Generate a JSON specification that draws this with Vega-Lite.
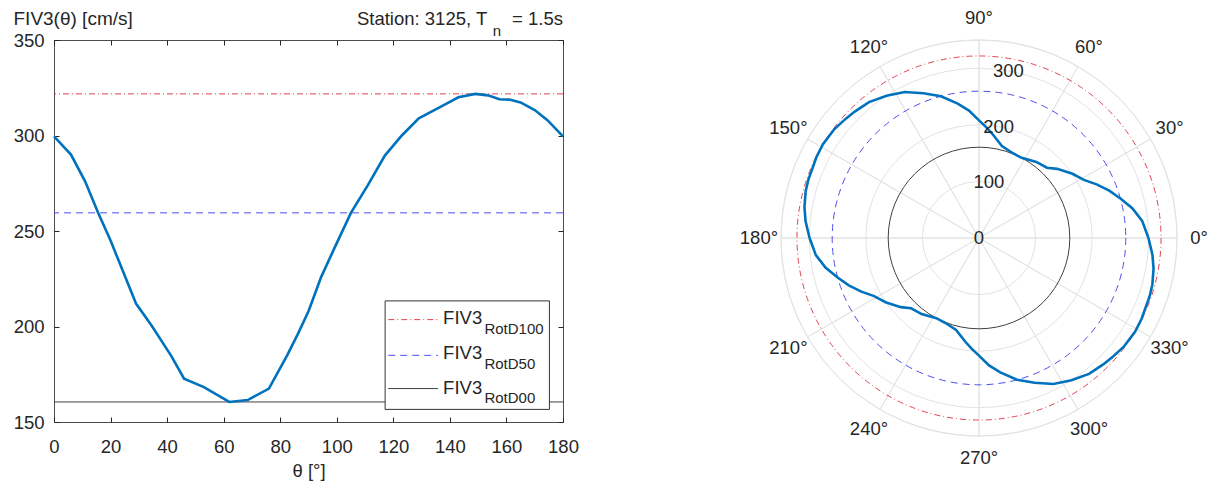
{
  "$schema": "https://vega.github.io/schema/vega-lite/v6.json",
  "background": "white",
  "padding": {"left": 12, "top": 8, "right": 5, "bottom": 5},
  "bounds": "flush",
  "spacing": 218,
  "config": {
    "font": "Liberation Sans",
    "view": {"stroke": null},
    "axis": {"labelFont": "Liberation Sans", "titleFont": "Liberation Sans", "labelColor": "#262626", "titleColor": "#262626", "tickColor": "#262626", "domainColor": "#262626", "grid": false, "labelFlush": false, "labelOverlap": false},
    "text": {"font": "Liberation Sans", "color": "#262626"}
  },
  "datasets": {
    "fiv": [
      {"theta": 0, "v": 299.5}, {"theta": 6, "v": 290}, {"theta": 11, "v": 276}, {"theta": 15.6, "v": 259.5},
      {"theta": 20, "v": 245}, {"theta": 24.5, "v": 228.5}, {"theta": 29, "v": 212}, {"theta": 34.5, "v": 200.5},
      {"theta": 41.5, "v": 184.5}, {"theta": 46, "v": 172.7}, {"theta": 53, "v": 168.3}, {"theta": 62, "v": 160.5},
      {"theta": 68.5, "v": 161.5}, {"theta": 76, "v": 167.5}, {"theta": 82.5, "v": 185}, {"theta": 86.3, "v": 196.3},
      {"theta": 90, "v": 208}, {"theta": 94.5, "v": 226}, {"theta": 99, "v": 240.5}, {"theta": 105, "v": 259.5},
      {"theta": 111, "v": 274}, {"theta": 117, "v": 289.5}, {"theta": 123, "v": 300}, {"theta": 129, "v": 309},
      {"theta": 134.5, "v": 313.3}, {"theta": 138, "v": 316}, {"theta": 143, "v": 320}, {"theta": 149, "v": 321.8},
      {"theta": 153.5, "v": 321}, {"theta": 157.5, "v": 319}, {"theta": 161, "v": 318.8}, {"theta": 165, "v": 317.3},
      {"theta": 170, "v": 313.3}, {"theta": 174.5, "v": 308}, {"theta": 180, "v": 299.5}
    ],
    "rot": [{"name": "RotD100", "v": 321.8}, {"name": "RotD50", "v": 259.5}, {"name": "RotD00", "v": 160.5}],
    "one": [{}],
    "rings": [{"r": 100}, {"r": 200}, {"r": 300}, {"r": 350}],
    "spokes": [{"w": 30}, {"w": 30}, {"w": 30}, {"w": 30}, {"w": 30}, {"w": 30}, {"w": 30}, {"w": 30}, {"w": 30}, {"w": 30}, {"w": 30}, {"w": 30}],
    "angles": [
      {"a": 0, "lab": "0°"}, {"a": 30, "lab": "30°"}, {"a": 60, "lab": "60°"}, {"a": 90, "lab": "90°"},
      {"a": 120, "lab": "120°"}, {"a": 150, "lab": "150°"}, {"a": 180, "lab": "180°"}, {"a": 210, "lab": "210°"},
      {"a": 240, "lab": "240°"}, {"a": 270, "lab": "270°"}, {"a": 300, "lab": "300°"}, {"a": 330, "lab": "330°"}
    ],
    "rlabels": [{"r": 0}, {"r": 100}, {"r": 200}, {"r": 300}]
  },
  "hconcat": [
    {
      "width": 509,
      "height": 382,
      "view": {"stroke": "#4d4d4d", "strokeWidth": 1},
      "resolve": {"axis": {"x": "independent", "y": "independent"}},
      "layer": [
        {
          "data": {"name": "rot"},
          "mark": {"type": "rule", "strokeWidth": 1},
          "encoding": {
            "y": {"field": "v", "type": "quantitative", "scale": {"domain": [150, 350], "nice": false, "zero": false},
              "axis": {"orient": "right", "labels": false, "domain": false, "title": null, "tickSize": -5, "values": [150, 200, 250, 300, 350]}},
            "color": {"field": "name", "type": "nominal", "scale": {"domain": ["RotD100", "RotD50", "RotD00"], "range": ["#E0434F", "#4F4FEF", "#404040"]}, "legend": null},
            "strokeDash": {"field": "name", "type": "nominal", "scale": {"domain": ["RotD100", "RotD50", "RotD00"], "range": [[6, 3, 1, 3], [7, 5], [1, 0]]}, "legend": null}
          }
        },
        {
          "data": {"name": "fiv"},
          "mark": {"type": "line", "color": "#0072BD", "strokeWidth": 2.6},
          "encoding": {
            "x": {"field": "theta", "type": "quantitative", "scale": {"domain": [0, 180], "nice": false, "zero": false},
              "axis": {"orient": "bottom", "values": [0, 20, 40, 60, 80, 100, 120, 140, 160, 180], "tickSize": -5, "labelPadding": 20, "labelFontSize": 18.5, "domain": false,
                "title": "θ [°]", "titleFontSize": 18.5, "titleFontWeight": "normal", "titleY": 54, "titleBaseline": "alphabetic"}},
            "y": {"field": "v", "type": "quantitative",
              "axis": {"orient": "left", "values": [150, 200, 250, 300, 350], "tickSize": -5, "labelPadding": 15, "labelFontSize": 18.5, "domain": false,
                "title": "FIV3(θ) [cm/s]", "titleAngle": 0, "titleX": -41, "titleY": -16, "titleAlign": "left", "titleBaseline": "alphabetic", "titleFontSize": 19, "titleFontWeight": "normal"}}
          }
        },
        {
          "data": {"name": "one"},
          "mark": {"type": "rect", "fill": "white", "stroke": "#333333", "strokeWidth": 1},
          "encoding": {
            "x": {"datum": 117.1, "type": "quantitative", "axis": {"orient": "top", "labels": false, "domain": false, "title": null, "tickSize": -5, "values": [0, 20, 40, 60, 80, 100, 120, 140, 160, 180]}},
            "x2": {"datum": 175.2},
            "y": {"datum": 213.4, "type": "quantitative", "axis": null},
            "y2": {"datum": 156.6}
          }
        },
        {
          "data": {"name": "one"},
          "mark": {"type": "rule", "color": "#E0434F", "strokeWidth": 1, "strokeDash": [6, 3, 1, 3]},
          "encoding": {"x": {"datum": 118.2, "type": "quantitative", "axis": null}, "x2": {"datum": 135.8}, "y": {"datum": 203.6, "type": "quantitative", "axis": null}}
        },
        {
          "data": {"name": "one"},
          "mark": {"type": "rule", "color": "#4F4FEF", "strokeWidth": 1, "strokeDash": [7, 5]},
          "encoding": {"x": {"datum": 118.2, "type": "quantitative", "axis": null}, "x2": {"datum": 135.8}, "y": {"datum": 184.9, "type": "quantitative", "axis": null}}
        },
        {
          "data": {"name": "one"},
          "mark": {"type": "rule", "color": "#404040", "strokeWidth": 1},
          "encoding": {"x": {"datum": 118.2, "type": "quantitative", "axis": null}, "x2": {"datum": 135.8}, "y": {"datum": 167.5, "type": "quantitative", "axis": null}}
        },
        {
          "data": {"name": "one"},
          "mark": {"type": "text", "text": "FIV3", "fontSize": 18.5, "align": "left", "baseline": "alphabetic"},
          "encoding": {"x": {"datum": 137.6, "type": "quantitative", "axis": null}, "y": {"datum": 201.5, "type": "quantitative", "axis": null}}
        },
        {
          "data": {"name": "one"},
          "mark": {"type": "text", "text": "RotD100", "fontSize": 15, "align": "left", "baseline": "alphabetic"},
          "encoding": {"x": {"datum": 152.2, "type": "quantitative", "axis": null}, "y": {"datum": 196.3, "type": "quantitative", "axis": null}}
        },
        {
          "data": {"name": "one"},
          "mark": {"type": "text", "text": "FIV3", "fontSize": 18.5, "align": "left", "baseline": "alphabetic"},
          "encoding": {"x": {"datum": 137.6, "type": "quantitative", "axis": null}, "y": {"datum": 183.2, "type": "quantitative", "axis": null}}
        },
        {
          "data": {"name": "one"},
          "mark": {"type": "text", "text": "RotD50", "fontSize": 15, "align": "left", "baseline": "alphabetic"},
          "encoding": {"x": {"datum": 152.2, "type": "quantitative", "axis": null}, "y": {"datum": 177.9, "type": "quantitative", "axis": null}}
        },
        {
          "data": {"name": "one"},
          "mark": {"type": "text", "text": "FIV3", "fontSize": 18.5, "align": "left", "baseline": "alphabetic"},
          "encoding": {"x": {"datum": 137.6, "type": "quantitative", "axis": null}, "y": {"datum": 164.9, "type": "quantitative", "axis": null}}
        },
        {
          "data": {"name": "one"},
          "mark": {"type": "text", "text": "RotD00", "fontSize": 15, "align": "left", "baseline": "alphabetic"},
          "encoding": {"x": {"datum": 152.2, "type": "quantitative", "axis": null}, "y": {"datum": 160, "type": "quantitative", "axis": null}}
        },
        {
          "data": {"name": "one"},
          "mark": {"type": "text", "text": "Station: 3125, T", "fontSize": 18.5, "align": "right", "baseline": "alphabetic"},
          "encoding": {"x": {"datum": 153.2, "type": "quantitative", "axis": null}, "y": {"datum": 358, "type": "quantitative", "axis": null}}
        },
        {
          "data": {"name": "one"},
          "mark": {"type": "text", "text": "n", "fontSize": 15, "align": "left", "baseline": "alphabetic"},
          "encoding": {"x": {"datum": 155.2, "type": "quantitative", "axis": null}, "y": {"datum": 352.3, "type": "quantitative", "axis": null}}
        },
        {
          "data": {"name": "one"},
          "mark": {"type": "text", "text": "= 1.5s", "fontSize": 18.5, "align": "right", "baseline": "alphabetic"},
          "encoding": {"x": {"datum": 180, "type": "quantitative", "axis": null}, "y": {"datum": 358, "type": "quantitative", "axis": null}}
        }
      ]
    },
    {
      "width": 396,
      "height": 396,
      "view": {"stroke": null},
      "layer": [
        {
          "data": {"name": "spokes"},
          "mark": {"type": "arc", "filled": false, "stroke": "#E3E3E3", "strokeWidth": 1},
          "encoding": {
            "theta": {"field": "w", "type": "quantitative", "stack": true, "scale": {"domain": [0, 360], "range": [1.5707963, -4.712389]}},
            "radius": {"datum": 350, "type": "quantitative", "scale": {"type": "linear", "domain": [0, 350], "range": [0, 198], "zero": true, "nice": false}}
          }
        },
        {
          "data": {"name": "rings"},
          "mark": {"type": "point", "shape": "circle", "filled": false, "color": "#E3E3E3", "strokeWidth": 1, "opacity": 1},
          "encoding": {
            "x": {"datum": 0, "type": "quantitative", "scale": {"domain": [-350, 350], "nice": false, "zero": false}, "axis": null},
            "y": {"datum": 0, "type": "quantitative", "scale": {"domain": [-350, 350], "nice": false, "zero": false}, "axis": null},
            "size": {"field": "r", "type": "quantitative", "scale": {"type": "pow", "exponent": 2, "domain": [0, 350], "range": [0, 156816], "zero": true, "nice": false}, "legend": null}
          }
        },
        {
          "data": {"name": "rot"},
          "transform": [{"filter": "datum.name === 'RotD100'"}],
          "mark": {"type": "point", "shape": "circle", "filled": false, "color": "#E0434F", "strokeWidth": 1, "opacity": 1, "strokeDash": [6, 3, 1, 3]},
          "encoding": {
            "x": {"datum": 0, "type": "quantitative", "axis": null},
            "y": {"datum": 0, "type": "quantitative", "axis": null},
            "size": {"field": "v", "type": "quantitative", "legend": null}
          }
        },
        {
          "data": {"name": "rot"},
          "transform": [{"filter": "datum.name === 'RotD50'"}],
          "mark": {"type": "point", "shape": "circle", "filled": false, "color": "#4F4FEF", "strokeWidth": 1, "opacity": 1, "strokeDash": [7, 5]},
          "encoding": {
            "x": {"datum": 0, "type": "quantitative", "axis": null},
            "y": {"datum": 0, "type": "quantitative", "axis": null},
            "size": {"field": "v", "type": "quantitative", "legend": null}
          }
        },
        {
          "data": {"name": "rot"},
          "transform": [{"filter": "datum.name === 'RotD00'"}],
          "mark": {"type": "point", "shape": "circle", "filled": false, "color": "#404040", "strokeWidth": 1, "opacity": 1},
          "encoding": {
            "x": {"datum": 0, "type": "quantitative", "axis": null},
            "y": {"datum": 0, "type": "quantitative", "axis": null},
            "size": {"field": "v", "type": "quantitative", "legend": null}
          }
        },
        {
          "data": {"name": "fiv"},
          "transform": [
            {"calculate": "datum.v * cos(datum.theta * PI / 180)", "as": "px"},
            {"calculate": "datum.v * sin(datum.theta * PI / 180)", "as": "py"}
          ],
          "mark": {"type": "line", "color": "#0072BD", "strokeWidth": 2.6},
          "encoding": {
            "x": {"field": "px", "type": "quantitative", "axis": null},
            "y": {"field": "py", "type": "quantitative", "axis": null},
            "order": {"field": "theta", "type": "quantitative"}
          }
        },
        {
          "data": {"name": "fiv"},
          "transform": [
            {"calculate": "-datum.v * cos(datum.theta * PI / 180)", "as": "px"},
            {"calculate": "-datum.v * sin(datum.theta * PI / 180)", "as": "py"}
          ],
          "mark": {"type": "line", "color": "#0072BD", "strokeWidth": 2.6},
          "encoding": {
            "x": {"field": "px", "type": "quantitative", "axis": null},
            "y": {"field": "py", "type": "quantitative", "axis": null},
            "order": {"field": "theta", "type": "quantitative"}
          }
        },
        {
          "data": {"name": "angles"},
          "mark": {"type": "text", "fontSize": 18.5, "align": "center", "baseline": "middle"},
          "encoding": {
            "theta": {"field": "a", "type": "quantitative"},
            "radius": {"datum": 389, "type": "quantitative"},
            "text": {"field": "lab"}
          }
        },
        {
          "data": {"name": "rlabels"},
          "mark": {"type": "text", "fontSize": 18.5, "align": "center", "baseline": "middle"},
          "encoding": {
            "theta": {"datum": 80, "type": "quantitative"},
            "radius": {"field": "r", "type": "quantitative"},
            "text": {"field": "r", "type": "quantitative"}
          }
        }
      ]
    }
  ]
}
